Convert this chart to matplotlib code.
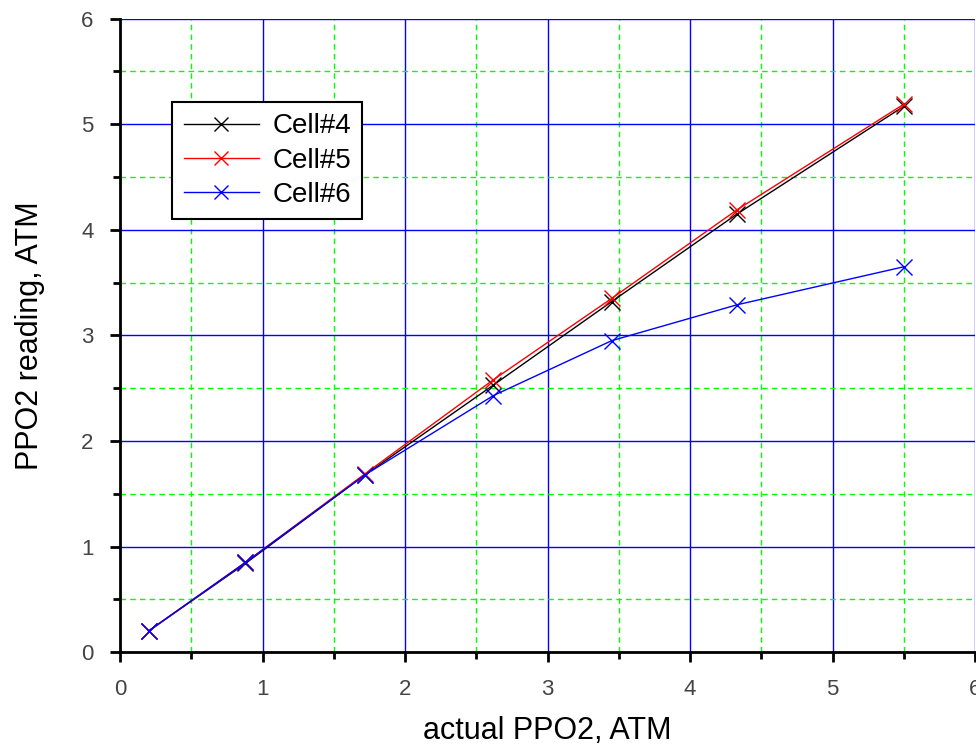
import matplotlib.pyplot as plt
from matplotlib.ticker import MultipleLocator

actual = [0.2, 0.88, 1.72, 2.62, 3.45, 4.33, 5.5]
cell4 = [0.2, 0.84, 1.68, 2.53, 3.32, 4.15, 5.17]
cell5 = [0.2, 0.85, 1.69, 2.58, 3.35, 4.19, 5.19]
cell6 = [0.2, 0.85, 1.68, 2.43, 2.95, 3.29, 3.65]

plt.rcParams['font.family'] = ['Liberation Sans', 'DejaVu Sans']

fig = plt.figure(figsize=(9.76, 7.47), dpi=100)
ax = fig.add_axes([0.123, 0.127, 0.876, 0.848])

ax.plot(actual, cell4, '-x', color='black', lw=1, ms=12, mew=1, label='Cell#4')
ax.plot(actual, cell5, '-x', color='red', lw=1, ms=12, mew=1, label='Cell#5')
ax.plot(actual, cell6, '-x', color='blue', lw=1, ms=12, mew=1, label='Cell#6')

ax.set_xlim(0, 6)
ax.set_ylim(0, 6)
ax.xaxis.set_major_locator(MultipleLocator(1))
ax.yaxis.set_major_locator(MultipleLocator(1))
ax.xaxis.set_minor_locator(MultipleLocator(0.5))
ax.yaxis.set_minor_locator(MultipleLocator(0.5))

ax.grid(which='major', color='blue', linestyle='-', linewidth=1)
ax.grid(which='minor', color='#00ff00', linestyle=(0, (4, 3)), linewidth=1)
ax.set_axisbelow(True)

for s in ['top', 'right']:
    ax.spines[s].set_visible(False)
for s in ['left', 'bottom']:
    ax.spines[s].set_linewidth(2)

ax.tick_params(which='major', direction='out', length=7, width=2,
               labelsize=16, labelcolor='#444444', pad=12)
ax.tick_params(which='minor', direction='out', length=5, width=2)

ax.set_xlabel('actual PPO2, ATM', fontsize=22, labelpad=12)
ax.set_ylabel('PPO2 reading, ATM', fontsize=22, labelpad=26)

leg = ax.legend(loc='upper left', bbox_to_anchor=(0.045, 0.89), fontsize=20,
                fancybox=False, shadow=False, framealpha=1, edgecolor='black',
                handlelength=2.7, handletextpad=0.5, borderpad=0.4,
                labelspacing=0.3, markerscale=0.8)
leg.get_frame().set_linewidth(1.5)

fig.savefig('out.png', dpi=100)
